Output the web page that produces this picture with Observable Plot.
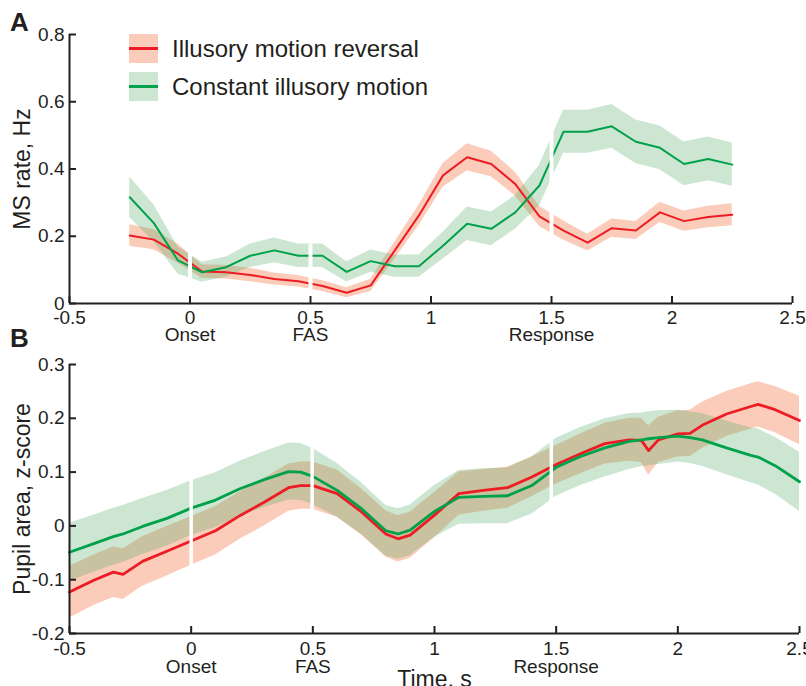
<!DOCTYPE html>
<html><head><meta charset="utf-8">
<script src="https://cdn.jsdelivr.net/npm/d3@7"></script>
<script src="https://cdn.jsdelivr.net/npm/@observablehq/plot@0.6"></script>
<style>
body{margin:0;background:#fff;}
#wrap{position:relative;width:806px;height:686px;overflow:hidden;font-family:"Liberation Sans",Arial,sans-serif;color:#231f20;background:#fff;}
.abs{position:absolute;line-height:1;white-space:nowrap;}
</style></head><body><div id="wrap"></div>
<script>
// ---------- Panel A: microsaccade rate ----------
const tA = [-0.25,-0.15,-0.05,0.05,0.15,0.25,0.35,0.45,0.55,0.65,0.75,0.85,0.95,1.05,1.15,1.25,1.35,1.45,1.55,1.65,1.75,1.85,1.95,2.05,2.15,2.25];
const redA = [0.202,0.190,0.148,0.095,0.093,0.085,0.073,0.066,0.052,0.032,0.054,0.158,0.262,0.381,0.435,0.415,0.355,0.259,0.217,0.181,0.224,0.217,0.271,0.245,0.257,0.264];
const redAse = [0.032,0.030,0.028,0.020,0.020,0.020,0.018,0.017,0.016,0.015,0.018,0.025,0.030,0.035,0.040,0.038,0.035,0.030,0.028,0.025,0.027,0.027,0.030,0.030,0.032,0.033];
const greenA = [0.316,0.239,0.128,0.093,0.108,0.142,0.158,0.142,0.142,0.094,0.126,0.111,0.111,0.172,0.237,0.222,0.271,0.351,0.511,0.511,0.527,0.481,0.463,0.415,0.430,0.413];
const greenAse = [0.060,0.055,0.040,0.030,0.030,0.035,0.037,0.035,0.035,0.030,0.033,0.033,0.033,0.040,0.050,0.050,0.050,0.060,0.064,0.064,0.065,0.065,0.065,0.065,0.065,0.064];

// ---------- Panel B: pupil area ----------
const tB = [-0.5,-0.4,-0.32,-0.28,-0.2,-0.1,0,0.1,0.2,0.3,0.4,0.45,0.5,0.6,0.7,0.8,0.85,0.9,1.0,1.1,1.2,1.3,1.4,1.5,1.6,1.7,1.8,1.85,1.88,1.92,2.0,2.05,2.1,2.2,2.3,2.33,2.4,2.5];
const redB = [-0.123,-0.101,-0.086,-0.090,-0.066,-0.047,-0.028,-0.009,0.019,0.044,0.071,0.075,0.075,0.060,0.026,-0.015,-0.024,-0.017,0.020,0.060,0.066,0.071,0.091,0.114,0.134,0.153,0.160,0.159,0.140,0.160,0.171,0.172,0.187,0.208,0.222,0.226,0.216,0.196];
const redBse = [0.048,0.047,0.047,0.047,0.046,0.046,0.045,0.045,0.044,0.044,0.044,0.044,0.044,0.044,0.043,0.043,0.043,0.043,0.042,0.040,0.039,0.038,0.037,0.036,0.037,0.038,0.040,0.041,0.046,0.042,0.043,0.043,0.043,0.042,0.042,0.042,0.043,0.045];
const greenB = [-0.049,-0.033,-0.020,-0.015,-0.001,0.014,0.033,0.048,0.069,0.086,0.101,0.100,0.092,0.066,0.032,-0.009,-0.015,-0.008,0.027,0.053,0.055,0.056,0.075,0.109,0.129,0.145,0.157,0.160,0.162,0.164,0.167,0.164,0.160,0.145,0.131,0.128,0.112,0.082];
const greenBse = [0.054,0.053,0.053,0.053,0.052,0.052,0.051,0.051,0.051,0.052,0.053,0.053,0.052,0.050,0.048,0.047,0.047,0.047,0.048,0.050,0.051,0.052,0.053,0.054,0.054,0.054,0.052,0.050,0.050,0.050,0.048,0.048,0.049,0.050,0.051,0.052,0.053,0.055];

// ---------- ticks, labels ----------
const xTicks = [-0.5,0,0.5,1,1.5,2,2.5];
const yTicksA = [0,0.2,0.4,0.6,0.8];
const yTicksB = [-0.2,-0.1,0,0.1,0.2,0.3];
const eventT = [0,0.5,1.5];
const eventLabels = ["Onset","FAS","Response"];
const gapsA = [0,0.5,1.5];
const gapsB = [0,0.497,1.48];
const seriesNames = ["Illusory motion reversal","Constant illusory motion"];
const lineColors = ["#ED1C24","#00A14B"];
const bandColors = ["#EE5516","#55AC69"];
const swatchColors = ["#FACCB9","#CCE6D2"];

function rows(t, v, se) { return t.map((x,i)=>({t:x, v:v[i], lo:v[i]-se[i], hi:v[i]+se[i]})); }
function interp(data, key, x) {
  for (let i=0;i<data.length-1;i++) {
    const a=data[i], b=data[i+1];
    if (x>=a.t && x<=b.t) { const f=(x-a.t)/(b.t-a.t); return a[key]+(b[key]-a[key])*f; }
  }
  return x < data[0].t ? data[0][key] : data[data.length-1][key];
}
function gapRows(gaps, series) {
  return gaps.map(g=>{
    let lo=Infinity, hi=-Infinity;
    for (const s of series) for (const dt of [-0.03,0,0.03]) {
      lo=Math.min(lo, interp(s,"lo",g+dt)); hi=Math.max(hi, interp(s,"hi",g+dt));
    }
    return {t:g, lo, hi};
  });
}

function panel({series, yDomain, yTicks, height, marginTop, marginBottom, marginRight, yLabel, gaps, lineWidth, gapWidth, padX, eventDy, timeLabel}) {
  const marks = [];
  series.forEach((s,k)=>marks.push(Plot.areaY(s, {x:"t", y1:"lo", y2:"hi", fill:bandColors[k], fillOpacity:0.3})));
  series.forEach((s,k)=>marks.push(Plot.lineY(s, {x:"t", y:"v", stroke:lineColors[k], strokeWidth:lineWidth})));
  marks.push(Plot.ruleX(gapRows(gaps, series), {x:"t", y1:"lo", y2:"hi", stroke:"white", strokeWidth:gapWidth}));
  marks.push(Plot.ruleX([-0.5], {stroke:"#231f20", strokeWidth:2}));
  marks.push(Plot.ruleY([yDomain[0]], {stroke:"#231f20", strokeWidth:2}));
  marks.push(Plot.axisX({ticks:xTicks, tickSize:-7, tickPadding:padX, strokeWidth:2, tickFormat:d=>String(d), label:null}));
  marks.push(Plot.axisY({ticks:yTicks, tickSize:-7, tickPadding:12, strokeWidth:2, tickFormat:d=>String(d), label:null}));
  marks.push(Plot.text(eventT, {x:d=>d, text:(d,i)=>eventLabels[i], frameAnchor:"bottom", lineAnchor:"top", dy:eventDy}));
  marks.push(Plot.text([yLabel], {frameAnchor:"left", textAnchor:"middle", rotate:-90, dx:-47, fontSize:23}));
  if (timeLabel) marks.push(Plot.text([timeLabel], {frameAnchor:"bottom", lineAnchor:"top", dy:37, fontSize:23}));
  return Plot.plot({
    width:806, height, marginLeft:69, marginRight, marginTop, marginBottom,
    x:{domain:[-0.5,2.5]}, y:{domain:yDomain},
    style:{fontFamily:'"Liberation Sans", Arial, sans-serif', fontSize:"19px", color:"#231f20", background:"transparent", overflow:"visible"},
    marks
  });
}

const wrap = document.getElementById("wrap");
const svgA = panel({series:[rows(tA,redA,redAse), rows(tA,greenA,greenAse)], yDomain:[0,0.8], yTicks:yTicksA,
  height:345, marginTop:34, marginBottom:42, marginRight:14, yLabel:"MS rate, Hz", gaps:gapsA, lineWidth:2, gapWidth:4, padX:14, eventDy:24});
const svgB = panel({series:[rows(tB,redB,redBse), rows(tB,greenB,greenBse)], yDomain:[-0.2,0.3], yTicks:yTicksB,
  height:341, marginTop:19, marginBottom:53, marginRight:7, yLabel:"Pupil area, z-score", gaps:gapsB, lineWidth:2.8, gapWidth:3.5, padX:15, eventDy:25.5, timeLabel:"Time, s"});
svgA.style.position="absolute"; svgA.style.left="0px"; svgA.style.top="0px";
svgB.style.position="absolute"; svgB.style.left="0px"; svgB.style.top="345px";
wrap.appendChild(svgA); wrap.appendChild(svgB);

// panel letters
[["A",10,9],["B",10,325]].forEach(([s,x,y])=>{
  const d=document.createElement("div"); d.className="abs"; d.textContent=s;
  d.style.cssText+=`left:${x}px;top:${y}px;font-size:26px;font-weight:bold;`;
  wrap.appendChild(d);
});
// legend
seriesNames.forEach((name,k)=>{
  const top = 34 + k*38;
  const sw=document.createElement("div"); sw.className="abs";
  sw.style.cssText+=`left:129px;top:${top}px;width:29px;height:29px;background:${swatchColors[k]};`;
  const ln=document.createElement("div"); ln.className="abs";
  ln.style.cssText+=`left:0;top:13px;width:29px;height:3px;background:${lineColors[k]};`;
  sw.appendChild(ln); wrap.appendChild(sw);
  const tx=document.createElement("div"); tx.className="abs"; tx.textContent=name;
  tx.style.cssText+=`left:172px;top:${top+2.5}px;font-size:24px;`;
  wrap.appendChild(tx);
});
</script></body></html>
